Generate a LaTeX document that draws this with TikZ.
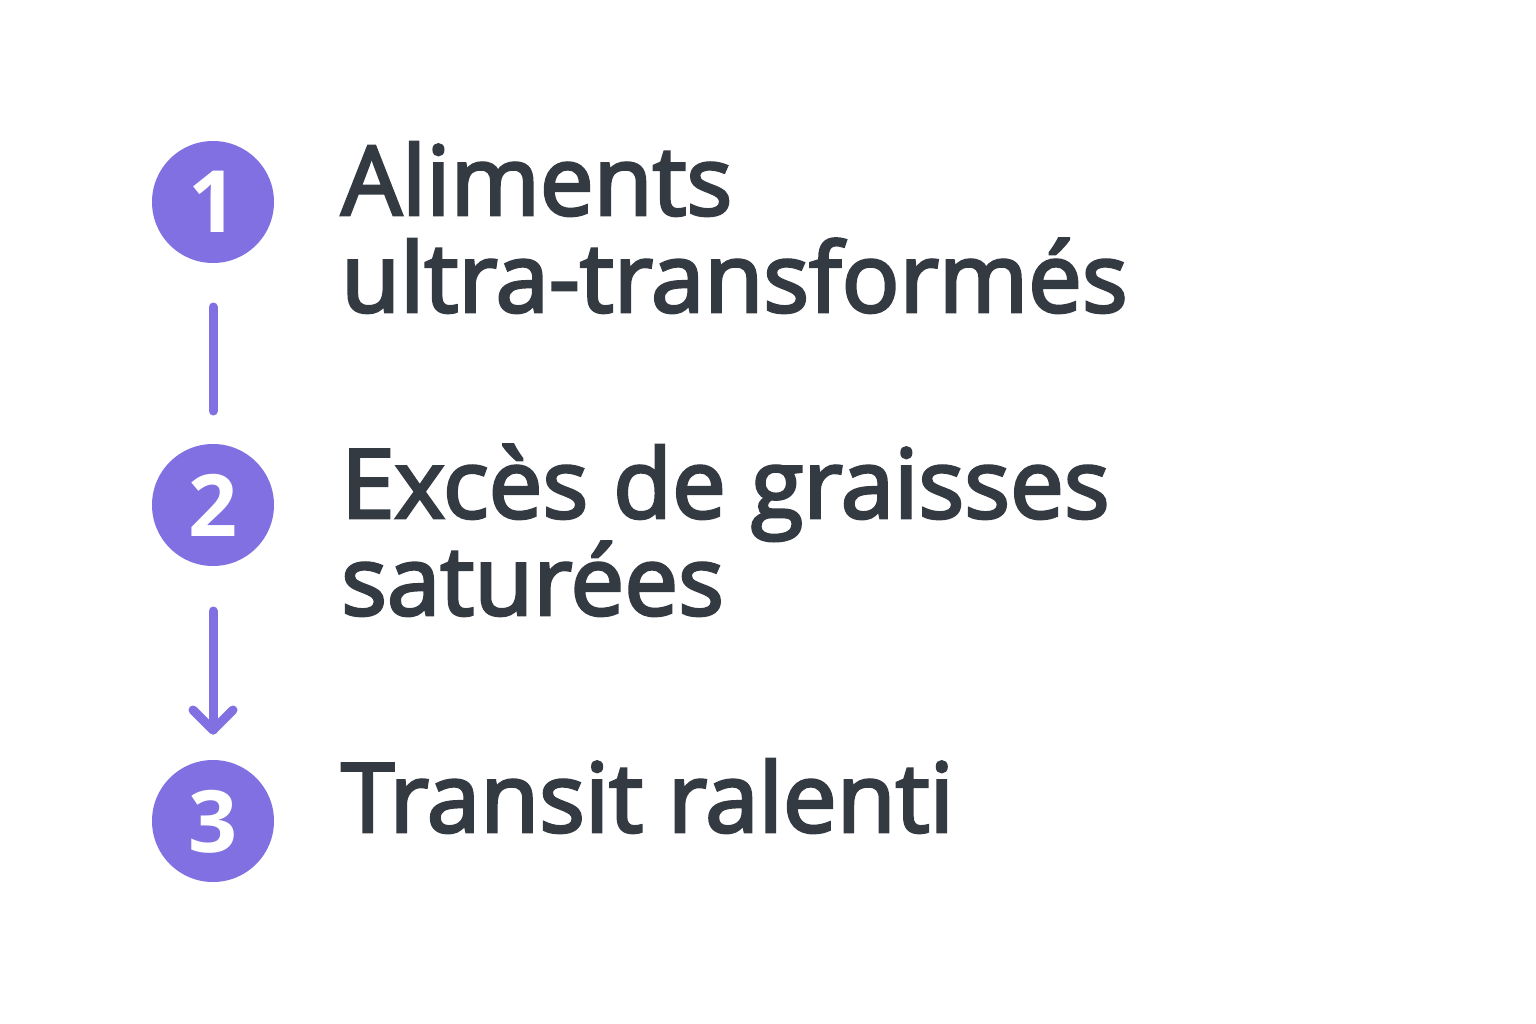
\documentclass[tikz,border=0pt]{standalone}
\usepackage{fontspec}
\setmainfont{Open Sans}
\newfontfamily\lblfont{Open Sans}[UprightFeatures={FakeBold=3}]
\definecolor{stepc}{RGB}{128,112,226}
\definecolor{txtc}{RGB}{52,58,66}
\usetikzlibrary{calc}
\begin{document}
\begin{tikzpicture}[x=1pt,y=-1pt,
  num/.style={circle,fill=stepc,minimum size=122pt,inner sep=0pt},
  digit/.style={anchor=base,inner sep=0pt,text=white,font=\fontsize{86}{86}\selectfont\bfseries},
  lbl/.style={anchor=base west,inner sep=0pt,text=txtc,font=\fontsize{96}{96}\lblfont},
  conn/.style={draw=stepc,line width=9pt,line cap=round,line join=round}]
\useasboundingbox[fill=white] (0,0) rectangle (1536,1024);
\node[num] (c1) at (213,202) {};
\node[num] (c2) at (213,505) {};
\node[num] (c3) at (213,821) {};
\node[digit] (n1) at (213,233) {1};
\node[digit] (n2) at (213,536) {2};
\node[digit] (n3) at (213,852) {3};
\coordinate (l1s) at (213,307);
\coordinate (l1e) at (213,411);
\coordinate (a2s) at (213,611);
\coordinate (a2e) at (213,730);
\path[conn] (l1s) -- (l1e);
\path[conn] (a2s) -- (a2e);
\path[conn] ($(a2e)+(-20,-20)$) -- (a2e) -- ($(a2e)+(20,-20)$);
\node[lbl] (t1a) at (341,215) {Aliments};
\node[lbl] (t1b) at (341,312) {ultra-transformés};
\node[lbl] (t2a) at (341,518) {Excès de graisses};
\node[lbl] (t2b) at (341,615) {saturées};
\node[lbl] (t3a) at (341,832) {Transit ralenti};
\end{tikzpicture}
\end{document}
